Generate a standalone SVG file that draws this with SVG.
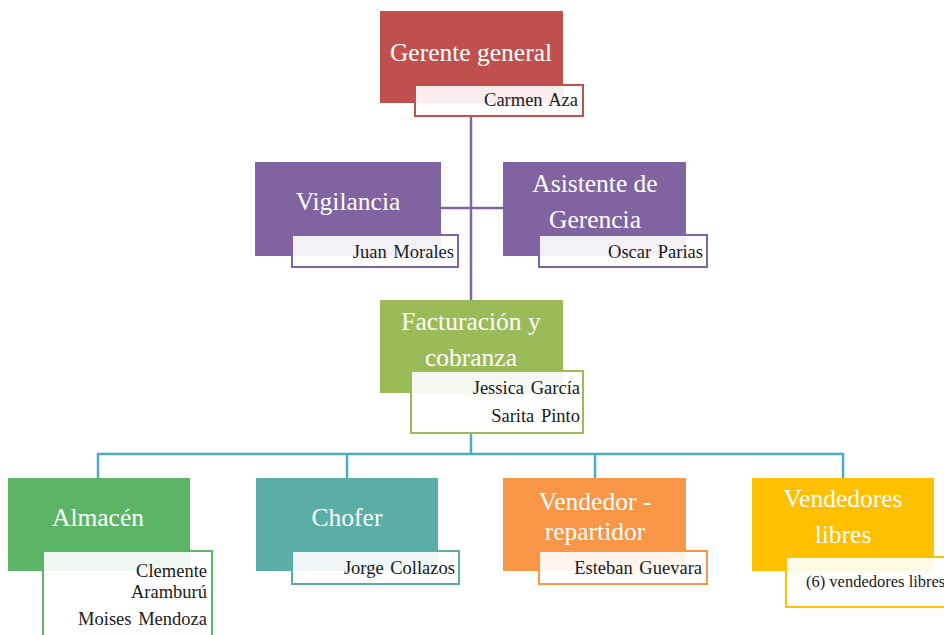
<svg xmlns="http://www.w3.org/2000/svg" width="944" height="635" viewBox="0 0 944 635">
<style>
.t{font-family:"Liberation Serif","Times New Roman",serif;font-size:25.5px;fill:#fff;text-anchor:middle}
.s{font-family:"Liberation Serif","Times New Roman",serif;font-size:18.5px;fill:#1a1a1a;text-anchor:end;word-spacing:2px}
.sub{fill:#fff;fill-opacity:0.9;stroke-width:2}
.c{fill:none;stroke-width:2.5}
</style>
<rect width="944" height="635" fill="#fff"/>
<g id="connectors">
<path class="c" stroke="#8064A2" d="M471 115 V300 M441 208 H503"/>
<path class="c" stroke="#4BACC6" d="M471 433 V454 M98 478 V454 H843 V478 M347 454 V478 M595 454 V478"/>
</g>
<g id="gerente">
<rect x="380" y="11" width="183" height="92" fill="#C0504D"/>
<rect class="sub" x="415" y="85" width="168" height="31" stroke="#C0504D"/>
<text class="t" x="471" y="61">Gerente general</text>
<text class="s" x="578" y="106">Carmen Aza</text>
</g>
<g id="vigilancia">
<rect x="255" y="162" width="186" height="94" fill="#8064A2"/>
<rect class="sub" x="292" y="235" width="166" height="32" stroke="#8064A2"/>
<text class="t" x="348" y="210">Vigilancia</text>
<text class="s" x="454" y="258">Juan Morales</text>
</g>
<g id="asistente">
<rect x="503" y="162" width="183" height="94" fill="#8064A2"/>
<rect class="sub" x="539" y="235" width="168" height="32" stroke="#8064A2"/>
<text class="t" x="595" y="192">Asistente de</text>
<text class="t" x="595" y="228">Gerencia</text>
<text class="s" x="703" y="258">Oscar Parias</text>
</g>
<g id="facturacion">
<rect x="380" y="300" width="183" height="93" fill="#9BBB59"/>
<rect class="sub" x="411" y="371" width="172" height="62" stroke="#9BBB59"/>
<text class="t" x="471" y="330">Facturación y</text>
<text class="t" x="471" y="366">cobranza</text>
<text class="s" x="580" y="394">Jessica García</text>
<text class="s" x="580" y="422">Sarita Pinto</text>
</g>
<g id="almacen">
<rect x="8" y="478" width="182" height="93" fill="#5CB567"/>
<rect class="sub" x="43" y="551" width="169" height="90" stroke="#5CB567"/>
<text class="t" x="98" y="526">Almacén</text>
<text class="s" x="207" y="577">Clemente</text>
<text class="s" x="207" y="598">Aramburú</text>
<text class="s" x="207" y="625">Moises Mendoza</text>
</g>
<g id="chofer">
<rect x="256" y="478" width="182" height="93" fill="#5BAEA6"/>
<rect class="sub" x="292" y="551" width="167" height="33" stroke="#5BAEA6"/>
<text class="t" x="347" y="526">Chofer</text>
<text class="s" x="455" y="574">Jorge Collazos</text>
</g>
<g id="vendedor">
<rect x="503" y="478" width="183" height="93" fill="#F79646"/>
<rect class="sub" x="539" y="551" width="168" height="33" stroke="#F79646"/>
<text class="t" x="595" y="510">Vendedor -</text>
<text class="t" x="595" y="540">repartidor</text>
<text class="s" x="702" y="574">Esteban Guevara</text>
</g>
<g id="libres">
<rect x="752" y="478" width="182" height="93" fill="#FFC000"/>
<rect class="sub" x="786" y="557" width="170" height="50" stroke="#FFC000"/>
<text class="t" x="843" y="507">Vendedores</text>
<text class="t" x="843" y="543">libres</text>
<text class="s" x="806" y="587" style="text-anchor:start;font-size:16.5px;word-spacing:0">(6) vendedores libres</text>
</g>
</svg>
